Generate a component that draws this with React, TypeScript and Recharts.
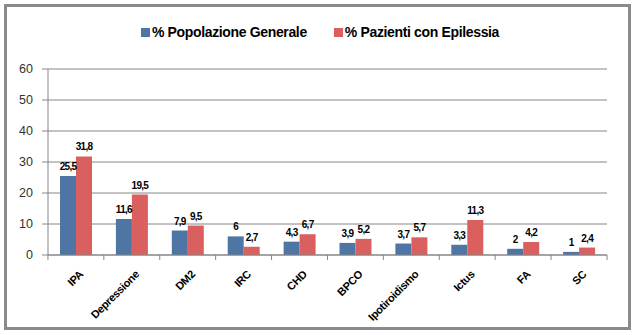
import { BarChart, Bar, XAxis, YAxis, CartesianGrid, LabelList } from 'recharts'

const CATEGORIES = ['IPA', 'Depressione', 'DM2', 'IRC', 'CHD', 'BPCO', 'Ipotiroidismo', 'Ictus', 'FA', 'SC']
const POPOLAZIONE = [25.5, 11.6, 7.9, 6, 4.3, 3.9, 3.7, 3.3, 2, 1]
const PAZIENTI = [31.8, 19.5, 9.5, 2.7, 6.7, 5.2, 5.7, 11.3, 4.2, 2.4]
const Y_TICKS = [0, 10, 20, 30, 40, 50, 60]

const BLUE = '#4f75a4'
const RED = '#d9605e'
const FONT = '"Liberation Sans", Arial, sans-serif'
const PLOT_W = 560

const data = CATEGORIES.map((name, i) => ({ name, pop: POPOLAZIONE[i], paz: PAZIENTI[i] }))
const fmt = (v: unknown) => String(v).replace('.', ',')

function XTick(props: any) {
  const { x, y, payload, index } = props
  const half = PLOT_W / CATEGORIES.length / 2
  const ax = x + 8
  const ay = y + 12
  return (
    <g>
      <line x1={x - half} y1={y - 8} x2={x - half} y2={y - 3} stroke="#868686" />
      {index === CATEGORIES.length - 1 && (
        <line x1={x + half} y1={y - 8} x2={x + half} y2={y - 3} stroke="#868686" />
      )}
      <text
        x={ax}
        y={ay}
        transform={`rotate(-45 ${ax} ${ay})`}
        textAnchor="end"
        fontFamily={FONT}
        fontWeight="bold"
        fontSize={11}
        letterSpacing={-0.3}
        fill="#000"
      >
        {payload.value}
      </text>
    </g>
  )
}

function LegendBox() {
  const items = [
    { label: '% Popolazione Generale', color: BLUE },
    { label: '% Pazienti con Epilessia', color: RED },
  ]
  return (
    <div style={{
      position: 'absolute', top: 24, left: 0, width: 640,
      display: 'flex', justifyContent: 'center', gap: 27,
      fontFamily: FONT, fontWeight: 'bold', fontSize: 14, letterSpacing: -0.35, color: '#000',
    }}>
      {items.map(it => (
        <div key={it.label} style={{ display: 'flex', alignItems: 'center', gap: 2 }}>
          <div style={{ width: 9, height: 9, background: it.color }} />
          <span>{it.label}</span>
        </div>
      ))}
    </div>
  )
}

const labelStyle = { fontFamily: FONT, fontWeight: 'bold', fontSize: 10, letterSpacing: -0.7, fill: '#000' }

export default function App() {
  return (
    <div style={{ position: 'absolute', left: 0, top: 0, width: 633, height: 335, background: '#fff' }}>
      <div style={{ position: 'absolute', left: 4, top: 4, width: 621, height: 320, border: '3px solid #8a8a8a' }} />
      <LegendBox />
      <BarChart
        width={633}
        height={335}
        data={data}
        margin={{ top: 69, right: 26, bottom: 0, left: 8 }}
        barGap={0}
        barSize={16}
      >
        <CartesianGrid vertical={false} stroke="#868686" />
        <XAxis
          dataKey="name"
          height={80}
          axisLine={{ stroke: '#868686' }}
          tickLine={false}
          tick={<XTick />}
          interval={0}
        />
        <YAxis
          domain={[0, 60]}
          ticks={Y_TICKS}
          width={40}
          axisLine={{ stroke: '#868686' }}
          tickLine={{ stroke: '#868686' }}
          tickSize={6}
          tickMargin={9}
          tick={{ fontSize: 12.5, fill: '#333', fontFamily: FONT }}
        />
        <Bar dataKey="pop" name="% Popolazione Generale" fill={BLUE} isAnimationActive={false}>
          <LabelList dataKey="pop" position="top" offset={6} formatter={fmt} style={labelStyle} />
        </Bar>
        <Bar dataKey="paz" name="% Pazienti con Epilessia" fill={RED} isAnimationActive={false}>
          <LabelList dataKey="paz" position="top" offset={6} formatter={fmt} style={labelStyle} />
        </Bar>
      </BarChart>
    </div>
  )
}
